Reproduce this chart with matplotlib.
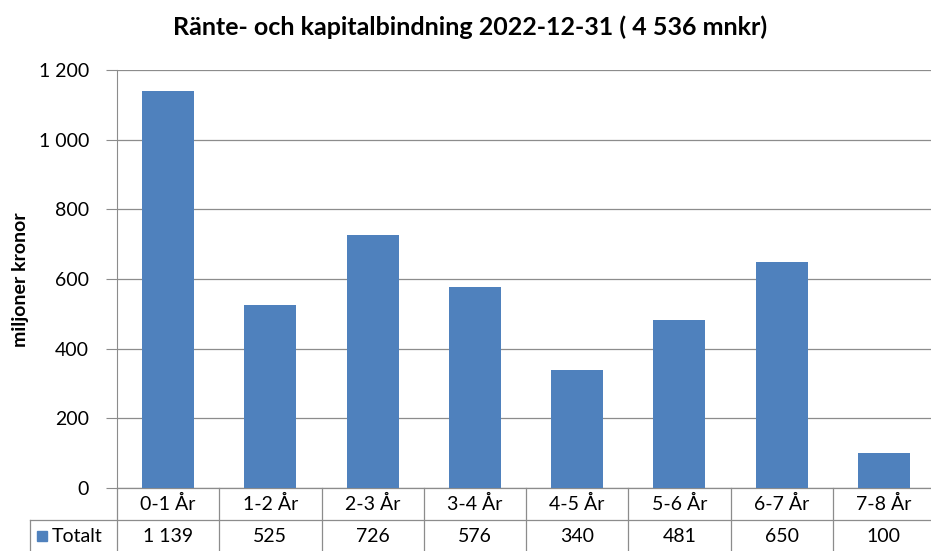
import numpy as np
import matplotlib.pyplot as plt

plt.rcParams['font.family'] = ['Lato', 'DejaVu Sans']

categories = ['0-1 År', '1-2 År', '2-3 År', '3-4 År', '4-5 År', '5-6 År', '6-7 År', '7-8 År']
totalt = [1139, 525, 726, 576, 340, 481, 650, 100]
series_name = 'Totalt'
title = 'Ränte- och kapitalbindning 2022-12-31 ( 4 536 mnkr)'
ylabel = 'miljoner kronor'
yticks = [0, 200, 400, 600, 800, 1000, 1200]

blue = '#4F81BD'
gray = '#8C8C8C'


def fmt(v):
    return f'{v:,}'.replace(',', ' ')


fig = plt.figure(figsize=(9.31, 5.51), dpi=100)
ax = fig.add_axes([117 / 931, 63 / 551, 818 / 931, 418 / 551])

x = np.arange(len(categories))
ax.bar(x, totalt, width=0.51, color=blue, zorder=3)
ax.set_xlim(-0.5, len(categories) - 0.5)
ax.set_ylim(0, 1200)
ax.set_yticks(yticks)
ax.set_yticklabels([fmt(v) for v in yticks], fontsize=14)
ax.tick_params(axis='y', length=8, color=gray, pad=12)
ax.set_xticks([])
ax.grid(axis='y', color=gray, lw=0.9, zorder=0)
for s in ['top', 'right', 'bottom']:
    ax.spines[s].set_visible(False)
ax.spines['left'].set_color(gray)
fig.text(21 / 931, 1 - 280 / 551, ylabel, rotation=90, ha='center', va='center',
         fontsize=14, fontweight='bold')

# data table under the axis
tr = ax.get_xaxis_transform()
rh = 32 / 418
left_edge = -0.5 - 87 / 102.25
n = len(categories)
ax.plot([-0.5, n - 0.5], [0, 0], transform=tr, color=gray, lw=0.9, clip_on=False)
for k in range(n + 1):
    ax.plot([k - 0.5, k - 0.5], [0, -2 * rh], transform=tr, color=gray, lw=0.9, clip_on=False)
ax.plot([left_edge, n - 0.5], [-rh, -rh], transform=tr, color=gray, lw=0.9, clip_on=False)
ax.plot([left_edge, left_edge], [-rh, -2 * rh], transform=tr, color=gray, lw=0.9, clip_on=False)
for i, c in enumerate(categories):
    ax.text(i, -rh / 2, c, transform=tr, ha='center', va='center', fontsize=14)
    ax.text(i, -1.5 * rh, fmt(totalt[i]), transform=tr, ha='center', va='center', fontsize=14)
ax.plot([left_edge + 0.12], [-1.5 * rh], transform=tr, marker='s', ms=7, color=blue, clip_on=False)
ax.text(left_edge + 0.21, -1.5 * rh, series_name, transform=tr, ha='left', va='center', fontsize=14)

fig.text(470 / 931, 1 - 27 / 551, title, ha='center', va='center', fontsize=18, fontweight='bold')

fig.savefig('out.png', dpi=100)
